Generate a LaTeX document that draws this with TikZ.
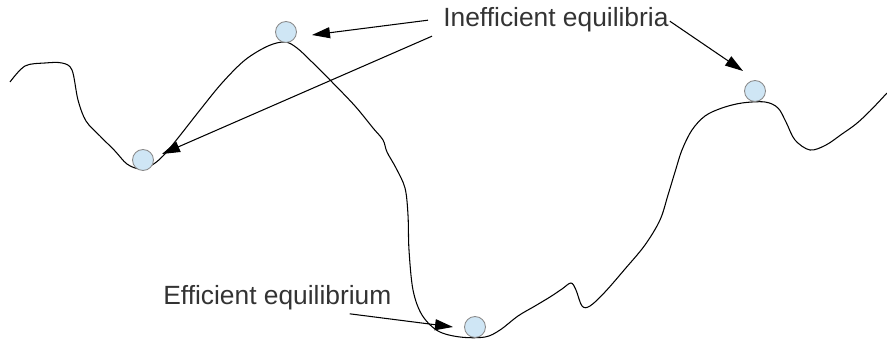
\documentclass[tikz,border=0pt]{standalone}
\usepackage{fontspec}
\setmainfont{Liberation Sans}
\usetikzlibrary{arrows.meta,calc}
\definecolor{ballfill}{HTML}{CFE6F5}
\definecolor{ballline}{HTML}{8A8A8A}
\definecolor{labeltext}{HTML}{333333}
\begin{document}
\begin{tikzpicture}[x=0.02cm,y=-0.02cm,
  ball/.style={circle,draw=ballline,fill=ballfill,line width=0.5pt,minimum size=0.42cm,inner sep=0pt},
  label/.style={inner sep=0pt,text=labeltext,font=\fontsize{15}{18}\selectfont},
  pointer/.style={line width=0.6pt,-{Triangle[length=0.36cm,width=0.22cm]}}]
\useasboundingbox (0,0) rectangle (887,341);
% landscape
\draw[line width=0.6pt] plot[smooth,tension=0.55] coordinates {
  (10,82) (25,66) (45,63) (62,63) (72,70) (78,100) (86,121) (100,136)
  (115,151) (127,164) (140,169) (152,165) (163,156) (178,138) (200,110)
  (222,83) (245,60) (268,46) (285,42) (297,48) (312,62) (332,82) (355,106)
  (373,128) (383,140) (387,152) (396,168) (405,188) (408,215) (409,250)
  (413,290) (422,315) (438,331) (460,337) (485,337) (500,330) (518,316)
  (535,306) (550,297) (562,289) (571,283) (576,290) (582,306) (590,306)
  (605,292) (625,269) (645,245) (660,220) (668,195) (675,172) (682,150)
  (692,130) (705,116) (722,108) (742,103) (765,102) (778,108) (786,122)
  (795,140) (810,150) (826,145) (842,134) (856,124) (870,111) (887,93)};
% balls
\node[ball] (top) at (286,32) {};
\node[ball] (left) at (143,160) {};
\node[ball] (right) at (755,91) {};
\node[ball] (bottom) at (475,327) {};
% labels
\node[label,anchor=base west] (ineff) at (443,27) {Inefficient equilibria};
\node[label,anchor=base west] (eff) at (163,305) {Efficient equilibrium};
\coordinate (tiptop) at ($(top)+(26,3)$);
\coordinate (tipleft) at ($(left)+(19,-6)$);
\coordinate (tipright) at ($(right)+(-12,-20)$);
\coordinate (tipbottom) at ($(bottom)+(-22,0)$);
\draw[pointer] ($(ineff.west)+(-15,0)$) -- (tiptop);
\draw[pointer] ($(ineff.west)+(-11,16)$) -- (tipleft);
\draw[pointer] ($(ineff.east)+(1,1)$) -- (tipright);
\draw[pointer] ($(eff.south east)+(-42,3)$) -- (tipbottom);
\end{tikzpicture}
\end{document}
